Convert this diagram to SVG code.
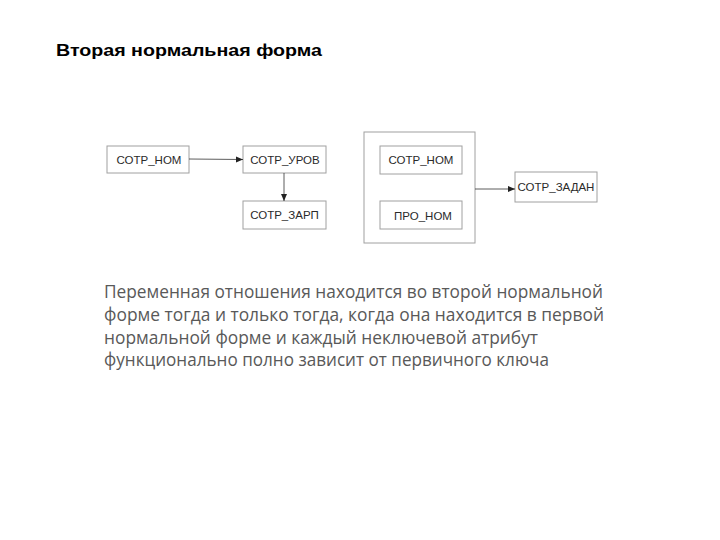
<svg xmlns="http://www.w3.org/2000/svg" width="720" height="540" viewBox="0 0 720 540">
<defs>
<marker id="arr" markerWidth="8" markerHeight="8" refX="7" refY="4" orient="auto" markerUnits="userSpaceOnUse">
<path d="M0,1 L7,4 L0,7 Z" fill="#222"/>
</marker>
<style>
.box{fill:#fff;stroke:#a0a0a0;stroke-width:1}
.lbl{font-family:"Liberation Sans",Arial,sans-serif;font-size:11.5px;fill:#2a2a2a;text-anchor:middle}
.con{stroke:#333;stroke-width:0.8;fill:none;marker-end:url(#arr)}
.para{font-family:"Open Sans","Noto Sans",sans-serif;font-size:18px;fill:#595959}
</style>
</defs>
<rect width="720" height="540" fill="#fff"/>
<text x="56" y="56" font-family="Liberation Sans,Arial,sans-serif" font-weight="bold" font-size="17" fill="#000" textLength="266" lengthAdjust="spacingAndGlyphs">Вторая нормальная форма</text>
<g id="n1"><rect class="box" x="107" y="146" width="82" height="27"/><text class="lbl" x="149" y="163.5">СОТР_НОМ</text></g>
<g id="n2"><rect class="box" x="243" y="146" width="83" height="27"/><text class="lbl" x="285" y="163.5">СОТР_УРОВ</text></g>
<g id="n3"><rect class="box" x="243" y="201" width="83" height="28"/><text class="lbl" x="284.5" y="219">СОТР_ЗАРП</text></g>
<g id="grp"><rect class="box" x="364" y="132" width="111" height="111"/></g>
<g id="n4"><rect class="box" x="380" y="146" width="82" height="28"/><text class="lbl" x="421" y="164">СОТР_НОМ</text></g>
<g id="n5"><rect class="box" x="380" y="201" width="82" height="28"/><text class="lbl" x="423" y="219.5">ПРО_НОМ</text></g>
<g id="n6"><rect class="box" x="515" y="172" width="82" height="30"/><text class="lbl" x="556" y="191">СОТР_ЗАДАН</text></g>
<g id="connectors">
<path class="con" d="M189,159 L243,159.5"/>
<path class="con" d="M284,173 L284,201"/>
<path class="con" d="M475,189 L515,189"/>
</g>
<g id="paragraph">
<text class="para" x="104" y="298" textLength="499" lengthAdjust="spacingAndGlyphs">Переменная отношения находится во второй нормальной</text>
<text class="para" x="104" y="321" textLength="500" lengthAdjust="spacingAndGlyphs">форме тогда и только тогда, когда она находится в первой</text>
<text class="para" x="104" y="344" textLength="434" lengthAdjust="spacingAndGlyphs">нормальной форме и каждый неключевой атрибут</text>
<text class="para" x="104" y="366" textLength="445" lengthAdjust="spacingAndGlyphs">функционально полно зависит от первичного ключа</text>
</g>
</svg>
